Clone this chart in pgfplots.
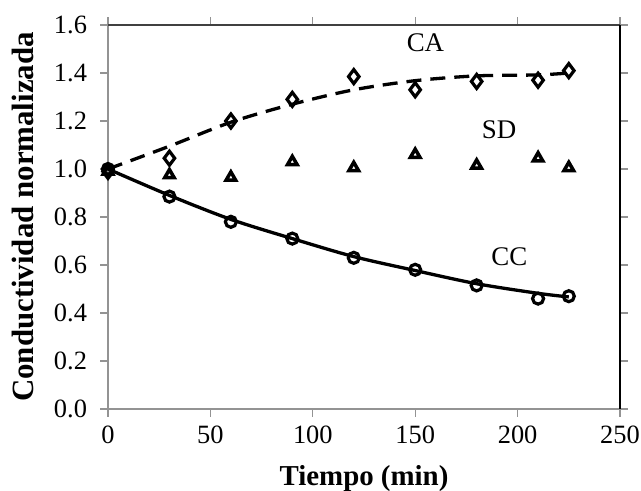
\documentclass[border=0pt]{standalone}
\usepackage{pgfplots}
\pgfplotsset{compat=1.18}
\usepackage{fontspec}
\setmainfont{Liberation Serif}
\begin{document}
\begin{tikzpicture}
\useasboundingbox (-108bp,-82bp) rectangle (533bp,409bp);
\begin{axis}[
  at={(0,0)}, anchor=south west,
  scale only axis, width=512bp, height=384bp,
  xmin=0, xmax=250, ymin=0, ymax=1.6,
  xtick={0,50,100,150,200,250},
  ytick={0,0.2,0.4,0.6,0.8,1.0,1.2,1.4,1.6},
  tick align=outside, major tick length=7.5bp,
  axis line style={gray!85, line width=1.2bp},
  every tick/.style={gray!85, line width=1.2bp},
  ticklabel style={font=\fontsize{26.5}{30}\selectfont},
  /pgf/number format/assume math mode=true,
  yticklabel style={xshift=-10bp, /pgf/number format/.cd, fixed, fixed zerofill, precision=1},
  xticklabel style={yshift=-6bp, /pgf/number format/.cd, fixed},
  xlabel={\textbf{Tiempo (min)}},
  ylabel={\textbf{Conductividad normalizada}},
  xlabel style={font=\fontsize{29}{33}\selectfont, at={(axis description cs:0.5,-0.18)}, anchor=center},
  ylabel style={font=\fontsize{31}{35}\selectfont, at={(axis description cs:-0.166,0.5)}, anchor=center},
  clip=false,
]
% CA fitted line
\addplot[black, line width=3.3bp, dash pattern=on 15bp off 9bp, smooth] coordinates {
 (0,1.0) (30,1.095) (60,1.195) (90,1.27) (120,1.33) (150,1.368) (180,1.388) (210,1.392) (225,1.40)};
% CC fitted line
\addplot[black, line width=3.3bp, smooth] coordinates {
 (0,1.0) (30,0.89) (60,0.79) (90,0.71) (120,0.635) (150,0.577) (180,0.522) (210,0.482) (225,0.467)};
% CA diamonds
\addplot[only marks, mark=diamond, mark size=7bp, mark options={line width=3.2bp, fill=white, draw=black}] coordinates {
 (0,0.99) (30,1.045) (60,1.20) (90,1.29) (120,1.385) (150,1.33) (180,1.365) (210,1.37) (225,1.41)};
% SD triangles
\addplot[only marks, mark=triangle, mark size=5.5bp, mark options={line width=3.5bp, fill=white, draw=black}] coordinates {
 (0,0.99) (30,0.975) (60,0.965) (90,1.03) (120,1.005) (150,1.06) (180,1.015) (210,1.045) (225,1.005)};
% CC circles
\addplot[only marks, mark=o, mark size=5.5bp, mark options={line width=3.2bp, fill=white, draw=black}] coordinates {
 (0,1.0) (30,0.885) (60,0.78) (90,0.71) (120,0.63) (150,0.58) (180,0.515) (210,0.46) (225,0.47)};
\node[font=\fontsize{27}{31}\selectfont] at (axis cs:155,1.525) {CA};
\node[font=\fontsize{27}{31}\selectfont] at (axis cs:191,1.165) {SD};
\node[font=\fontsize{27}{31}\selectfont] at (axis cs:196,0.634) {CC};
\draw[black!75, line width=1.5bp] (rel axis cs:0,1) -- (rel axis cs:1,1);
\draw[black, line width=1.5bp] (rel axis cs:1,1) -- (rel axis cs:1,0);
\end{axis}
\end{tikzpicture}
\end{document}
